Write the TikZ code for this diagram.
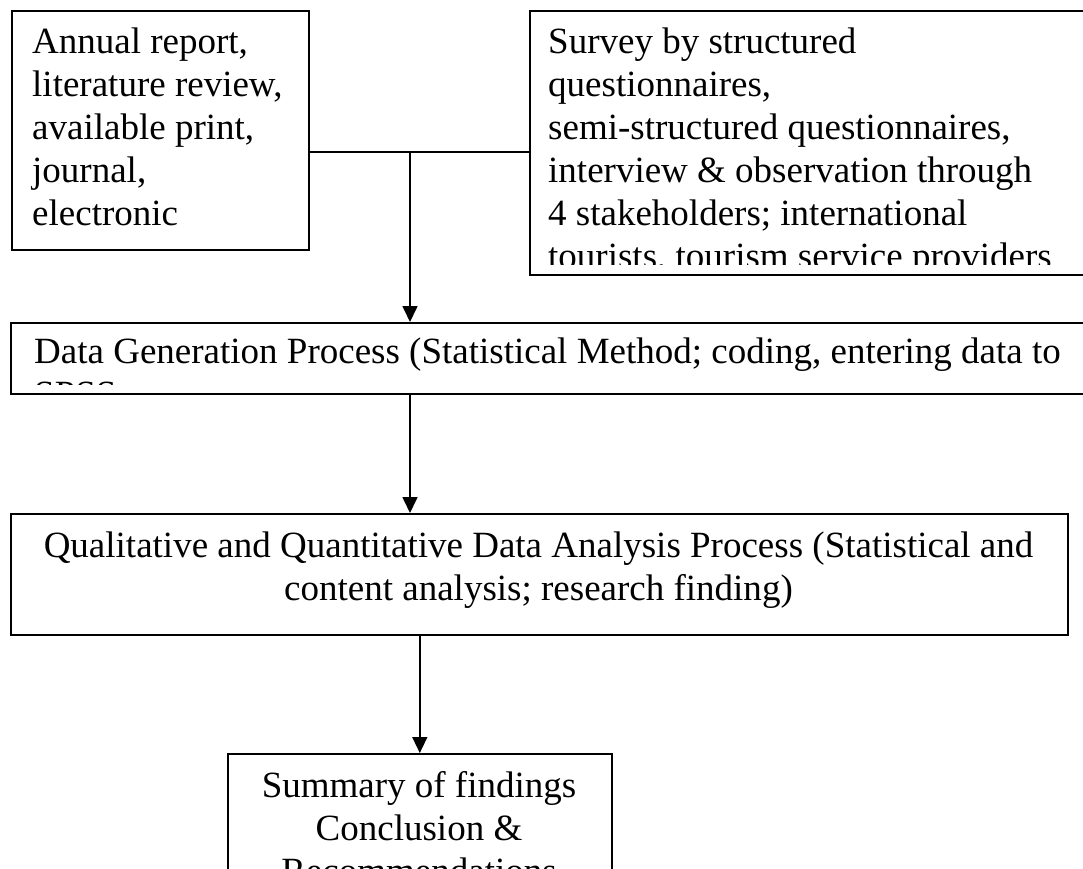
\documentclass[tikz,border=0pt]{standalone}
\usepackage{fontspec}
\setmainfont{Liberation Serif}
\usetikzlibrary{arrows.meta}

\tikzset{
  box/.style={draw=black, line width=1.6pt, rectangle, anchor=north west, inner sep=0pt},
  txt/.style={inner sep=0pt, anchor=base west, font=\fontsize{37}{43}\selectfont},
  link/.style={draw=black, line width=1.6pt},
  flow/.style={link, -{Triangle[width=15pt,length=16pt]}}
}

\begin{document}
\begin{tikzpicture}[x=1pt,y=-1pt]
  \useasboundingbox (0,0) rectangle (1083,868);
  \clip (0,0) rectangle (1083,868);
  \fill[white] (0,0) rectangle (1083,868);

  % boxes
  \node[box, minimum width=297pt, minimum height=239pt] (b1) at (11,10) {};
  \node[box, minimum width=600pt, minimum height=264pt] (b2) at (529,10) {};
  \node[box, minimum width=1100pt, minimum height=71pt] (b3) at (10,322) {};
  \node[box, minimum width=1057pt, minimum height=121pt] (b4) at (10,513) {};
  \node[box, minimum width=384pt, minimum height=200pt] (b5) at (227,753) {};

  % sources
  \node[txt] (t1) at (32,53) {\parbox[t]{270pt}{\raggedright
    Annual report,\\ literature review,\\ available print,\\ journal,\\ electronic}};

  \begin{scope}
    \clip (529,10) rectangle (1083,264);
    \node[txt] (t2) at (548,53) {\parbox[t]{530pt}{\raggedright
      Survey by structured\\ questionnaires,\\ semi-structured questionnaires,\\
      interview \& observation through\\ 4 stakeholders; international\\
      tourists, tourism service providers}};
  \end{scope}

  % data generation
  \begin{scope}
    \clip (10,322) rectangle (1083,384.5);
    \node[txt] (t3) at (34,363) {\parbox[t]{1100pt}{\raggedright
      Data Generation Process (Statistical Method; coding, entering data to\\ SPSS}};
  \end{scope}

  % analysis
  \node[txt, anchor=base] (t4) at (538.5,557) {\parbox[t]{1040pt}{\centering
    Qualitative and Quantitative Data Analysis Process (Statistical and\\
    content analysis; research finding)}};

  % summary
  \node[txt, anchor=base] (t5) at (419,797) {\parbox[t]{370pt}{\centering
    Summary of findings\\ Conclusion \&\\ Recommendations}};

  % connectors
  \coordinate (j) at (410,152);
  \draw[link] (b1.east |- j) -- (b2.west |- j);
  \draw[flow] (j) -- (b3.north -| j);
  \draw[flow] (b3.south -| j) -- (b4.north -| j);
  \draw[flow] (b4.south -| b5.north) -- (b5.north);
\end{tikzpicture}
\end{document}
